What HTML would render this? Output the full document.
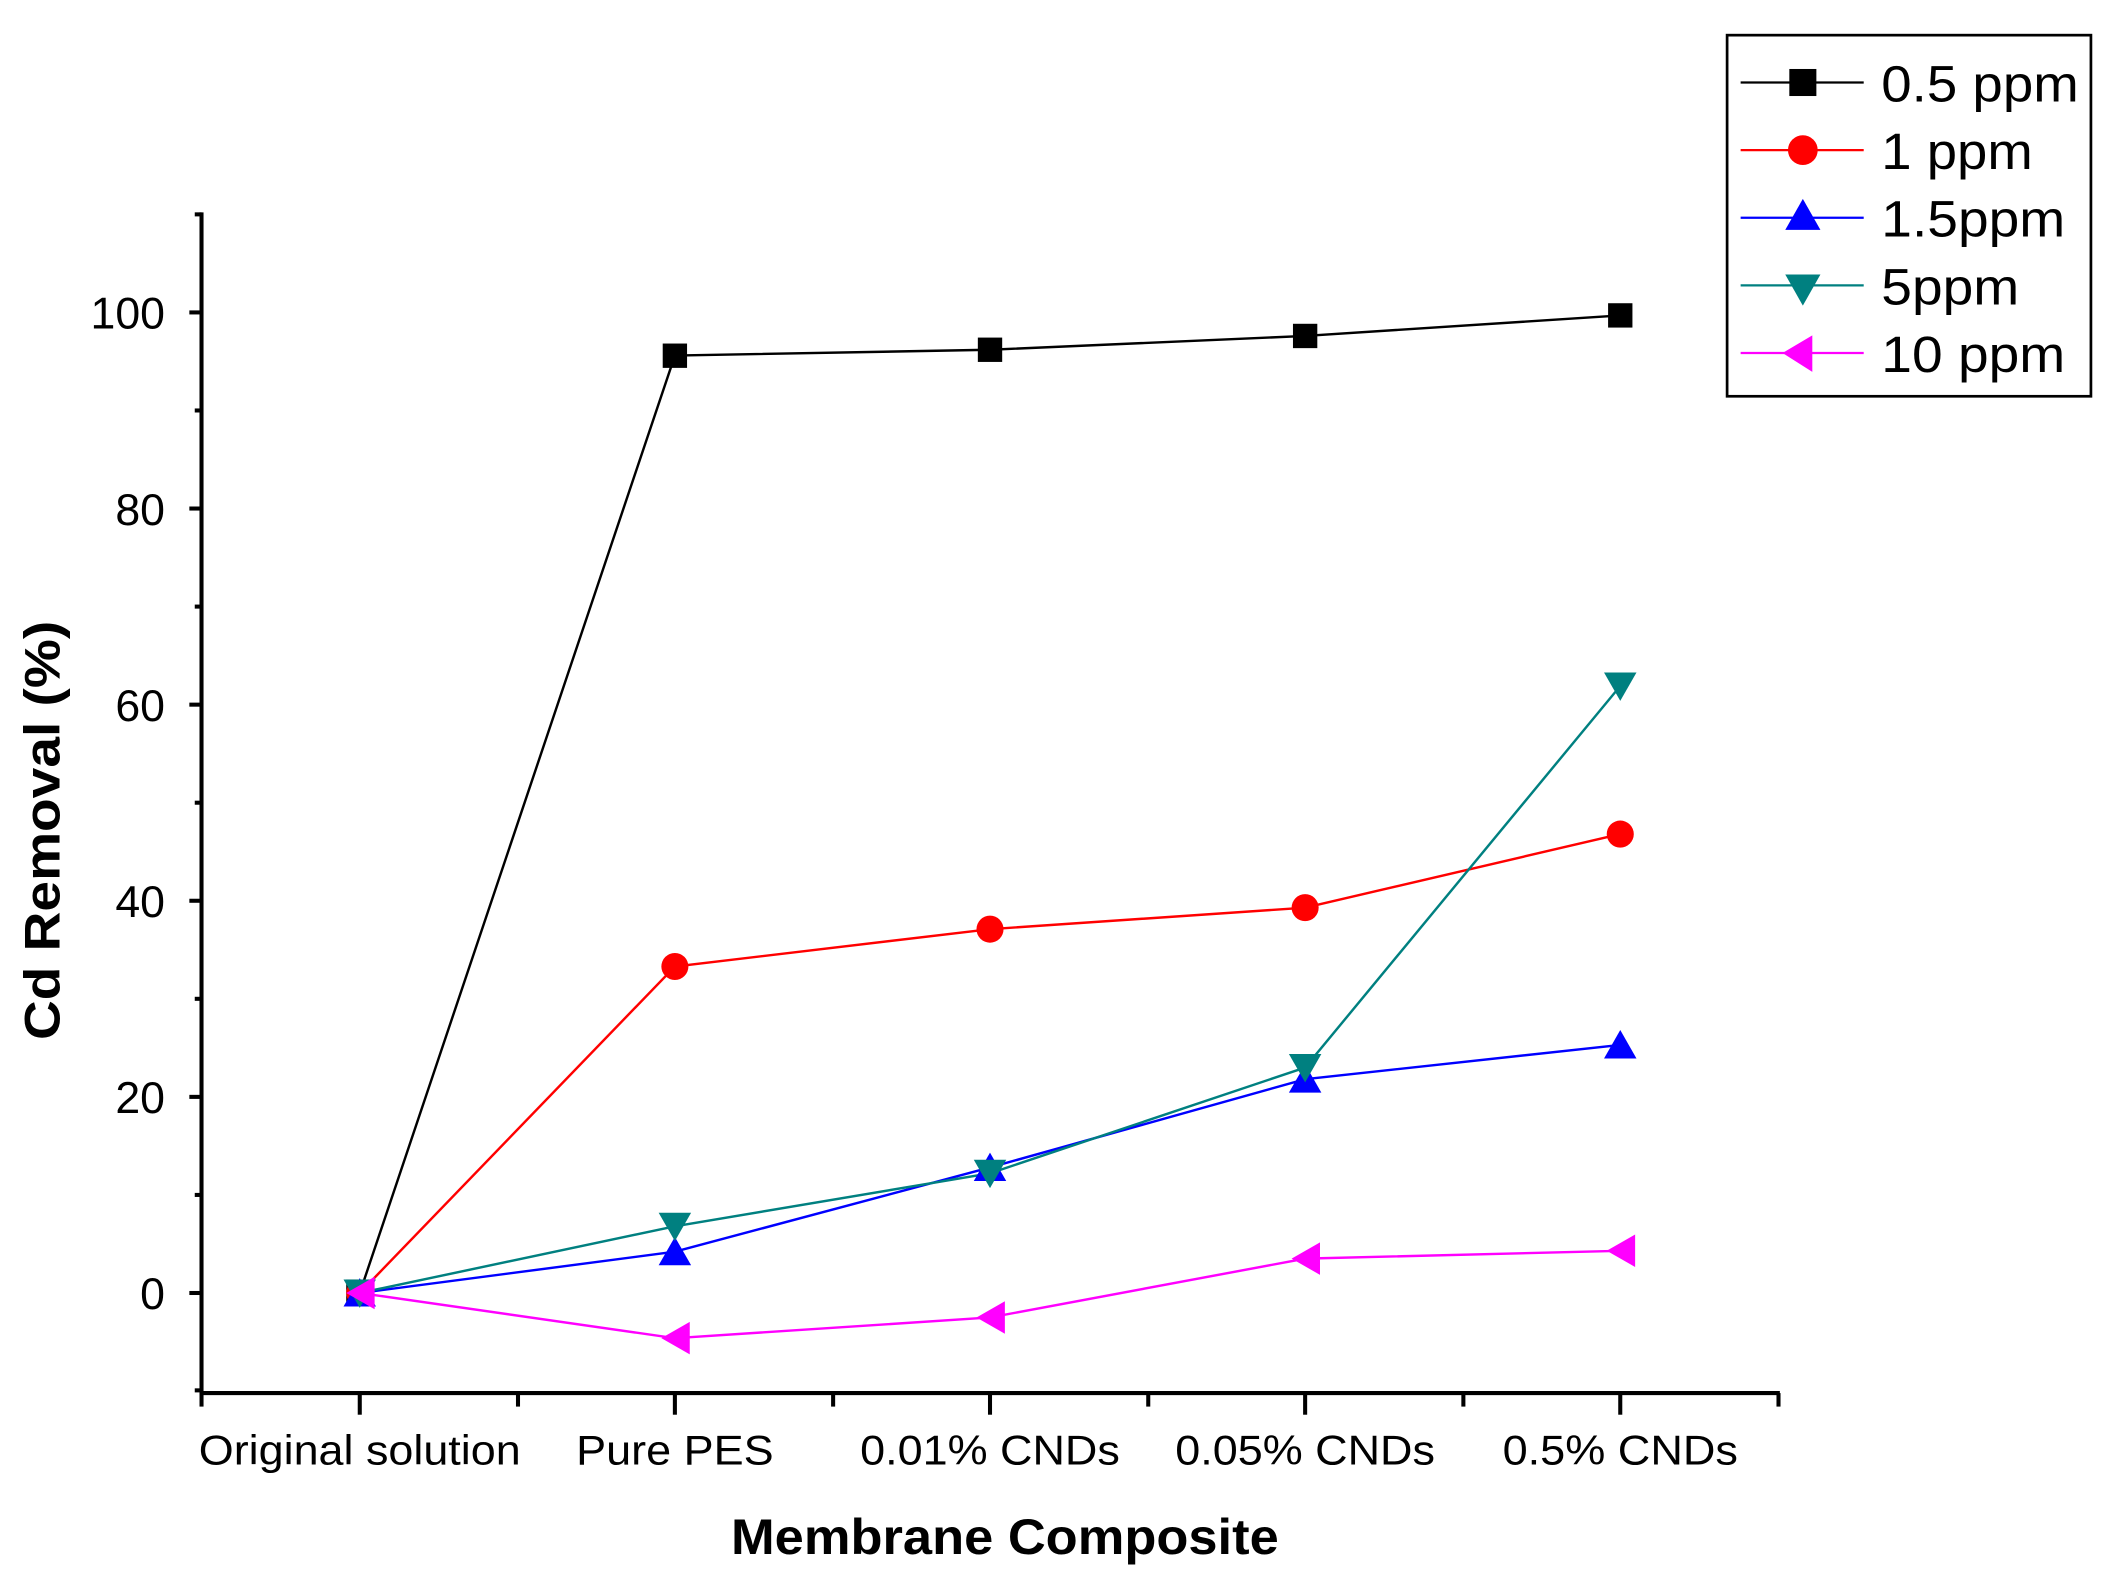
<!DOCTYPE html>
<html><head><meta charset="utf-8"><style>html,body{margin:0;padding:0;background:#fff}svg{display:block}</style></head>
<body>
<svg width="2120" height="1595" viewBox="0 0 1567.5 1179.3" preserveAspectRatio="none" xmlns="http://www.w3.org/2000/svg" font-family="Liberation Sans, Arial, sans-serif">
<rect width="1567.5" height="1179.3" fill="#fff"/>
<g stroke="#000" stroke-width="3" fill="none">
<line x1="149" y1="157" x2="149" y2="1031"/>
<line x1="147.5" y1="1030" x2="1316" y2="1030"/>
<line x1="140" y1="956" x2="149" y2="956"/>
<line x1="140" y1="811" x2="149" y2="811"/>
<line x1="140" y1="666" x2="149" y2="666"/>
<line x1="140" y1="521" x2="149" y2="521"/>
<line x1="140" y1="376" x2="149" y2="376"/>
<line x1="140" y1="231" x2="149" y2="231"/>
<line x1="144" y1="1028" x2="149" y2="1028"/>
<line x1="144" y1="883.5" x2="149" y2="883.5"/>
<line x1="144" y1="738.5" x2="149" y2="738.5"/>
<line x1="144" y1="593.5" x2="149" y2="593.5"/>
<line x1="144" y1="448.5" x2="149" y2="448.5"/>
<line x1="144" y1="303.5" x2="149" y2="303.5"/>
<line x1="144" y1="158.5" x2="149" y2="158.5"/>
<line x1="266" y1="1030" x2="266" y2="1046"/>
<line x1="499" y1="1030" x2="499" y2="1046"/>
<line x1="732" y1="1030" x2="732" y2="1046"/>
<line x1="965" y1="1030" x2="965" y2="1046"/>
<line x1="1198" y1="1030" x2="1198" y2="1046"/>
<line x1="149" y1="1030" x2="149" y2="1040"/>
<line x1="383" y1="1030" x2="383" y2="1040"/>
<line x1="616" y1="1030" x2="616" y2="1040"/>
<line x1="849" y1="1030" x2="849" y2="1040"/>
<line x1="1082" y1="1030" x2="1082" y2="1040"/>
<line x1="1315" y1="1030" x2="1315" y2="1040"/>
</g>
<g font-size="33" text-anchor="end" fill="#000">
<text x="122" y="968">0</text>
<text x="122" y="823">20</text>
<text x="122" y="678">40</text>
<text x="122" y="533">60</text>
<text x="122" y="388">80</text>
<text x="122" y="243">100</text>
</g>
<g font-size="31" text-anchor="middle" fill="#000">
<text x="266" y="1083" textLength="238" lengthAdjust="spacingAndGlyphs">Original solution</text>
<text x="499" y="1083" textLength="146" lengthAdjust="spacingAndGlyphs">Pure PES</text>
<text x="732" y="1083" textLength="192" lengthAdjust="spacingAndGlyphs">0.01% CNDs</text>
<text x="965" y="1083" textLength="192" lengthAdjust="spacingAndGlyphs">0.05% CNDs</text>
<text x="1198" y="1083" textLength="174" lengthAdjust="spacingAndGlyphs">0.5% CNDs</text>
</g>
<text x="743" y="1149" font-size="37" font-weight="bold" text-anchor="middle" textLength="405" lengthAdjust="spacingAndGlyphs">Membrane Composite</text>
<text transform="translate(44,614) rotate(-90)" font-size="37" font-weight="bold" text-anchor="middle" textLength="310" lengthAdjust="spacingAndGlyphs">Cd Removal (%)</text>

<g fill="none" stroke-width="1.8">
<polyline stroke="#000" points="266,956 499,262.9 732,258.6 965,248.4 1198,233.2"/>
<polyline stroke="#f00" points="266,956 499,714.6 732,687 965,671.1 1198,616.7"/>
<polyline stroke="#00f" points="266,956 499,925.5 732,863.2 965,797.9 1198,772.6"/>
<polyline stroke="#008080" points="266,956 499,906.7 732,867.5 965,789.3 1198,507.2"/>
<polyline stroke="#f0f" points="266,956 499,989.4 732,974.1 965,930.6 1198,924.8"/>
</g>
<g fill="#000">
<rect x="256" y="946" width="18" height="18"/>
<rect x="490" y="254" width="18" height="18"/>
<rect x="723" y="249.6" width="18" height="18"/>
<rect x="956" y="239.4" width="18" height="18"/>
<rect x="1189" y="224.2" width="18" height="18"/>
</g>
<g fill="#f00">
<circle cx="266" cy="956" r="10"/>
<circle cx="499" cy="714.6" r="10"/>
<circle cx="732" cy="687" r="10"/>
<circle cx="965" cy="671.1" r="10"/>
<circle cx="1198" cy="616.7" r="10"/>
</g>
<g fill="#00f">
<polygon points="266,945 254,966 278,966"/>
<polygon points="499,914.5 487,935.5 511,935.5"/>
<polygon points="732,852.2 720,873.2 744,873.2"/>
<polygon points="965,786.9 953,807.9 977,807.9"/>
<polygon points="1198,761.6 1186,782.6 1210,782.6"/>
</g>
<g fill="#008080">
<polygon points="266,967 254,946 278,946"/>
<polygon points="499,917.7 487,896.7 511,896.7"/>
<polygon points="732,878.5 720,857.5 744,857.5"/>
<polygon points="965,800.3 953,779.3 977,779.3"/>
<polygon points="1198,518.2 1186,497.2 1210,497.2"/>
</g>
<g fill="#f0f">
<polygon points="256,956 277,944 277,968"/>
<polygon points="489,989.4 510,977.4 510,1001.4"/>
<polygon points="722,974.1 743,962.1 743,986.1"/>
<polygon points="955,930.6 976,918.6 976,942.6"/>
<polygon points="1188,924.8 1209,912.8 1209,936.8"/>
</g>

<rect x="1277" y="26" width="269" height="267" fill="none" stroke="#000" stroke-width="2"/>
<g stroke-width="1.6">
<line x1="1287" y1="61" x2="1378" y2="61" stroke="#000"/>
<line x1="1287" y1="111" x2="1378" y2="111" stroke="#f00"/>
<line x1="1287" y1="161" x2="1378" y2="161" stroke="#00f"/>
<line x1="1287" y1="211" x2="1378" y2="211" stroke="#008080"/>
<line x1="1287" y1="261" x2="1378" y2="261" stroke="#f0f"/>
</g>
<rect x="1323" y="51" width="20" height="20" fill="#000"/>
<circle cx="1333" cy="111" r="11" fill="#f00"/>
<polygon points="1333,147 1320,170 1346,170" fill="#00f"/>
<polygon points="1333,226 1320,203 1346,203" fill="#008080"/>
<polygon points="1318,261 1340,248 1340,275" fill="#f0f"/>
<g font-size="38" fill="#000">
<text x="1391" y="75" textLength="146" lengthAdjust="spacingAndGlyphs">0.5 ppm</text>
<text x="1391" y="125" textLength="112" lengthAdjust="spacingAndGlyphs">1 ppm</text>
<text x="1391" y="175" textLength="136" lengthAdjust="spacingAndGlyphs">1.5ppm</text>
<text x="1391" y="225" textLength="102" lengthAdjust="spacingAndGlyphs">5ppm</text>
<text x="1391" y="275" textLength="136" lengthAdjust="spacingAndGlyphs">10 ppm</text>
</g>
</svg>
</body></html>
